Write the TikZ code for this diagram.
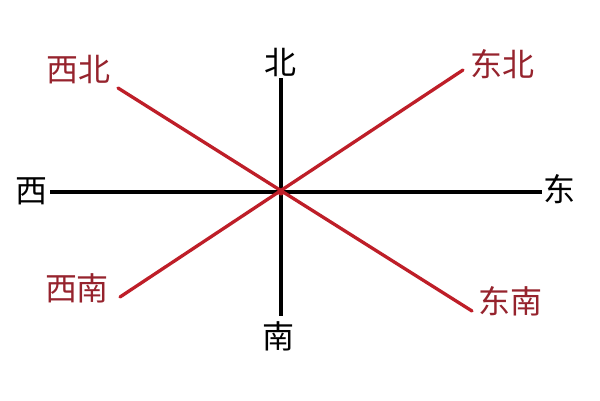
\documentclass[tikz,border=0pt]{standalone}
\usepackage{fontspec}
\newfontfamily\cjk{Noto Sans CJK SC}
\definecolor{axisred}{RGB}{190,30,40}
\definecolor{labred}{RGB}{150,35,45}
\begin{document}
\begin{tikzpicture}[x=1pt,y=-1pt,
  axis/.style={line width=3.5pt,black},
  diag/.style={line width=3.3pt,axisred,line cap=round},
  blab/.style={font=\cjk\fontsize{32}{33}\selectfont,text=black,inner sep=0pt},
  rlab/.style={font=\cjk\fontsize{32}{33}\selectfont,text=labred,inner sep=0pt}]
\useasboundingbox (0,0) rectangle (600,400);
\fill[white] (0,0) rectangle (600,400);
\coordinate (o) at (281,192);
\coordinate (we) at (50,192);
\coordinate (ea) at (542,192);
\coordinate (no) at (281,78);
\coordinate (so) at (281,316);
\coordinate (nw) at (118,88);
\coordinate (se) at (472,311);
\coordinate (ne) at (463,70);
\coordinate (sw) at (120,297);
\draw[axis] (we) -- (ea);
\draw[axis] (no) -- (so);
\draw[diag] (nw) -- (se);
\draw[diag] (ne) -- (sw);
\fill[axisred] (o) circle (3.5pt);
\node[blab] (lno) at (280,62) {北};
\node[blab] (lso) at (278,336) {南};
\node[blab] (lwe) at (31,191) {西};
\node[blab] (lea) at (559,189) {东};
\node[rlab] (lnw) at (78,70) {西北};
\node[rlab] (lne) at (502,64) {东北};
\node[rlab] (lsw) at (77,288) {西南};
\node[rlab] (lse) at (510,301) {东南};
\end{tikzpicture}
\end{document}
